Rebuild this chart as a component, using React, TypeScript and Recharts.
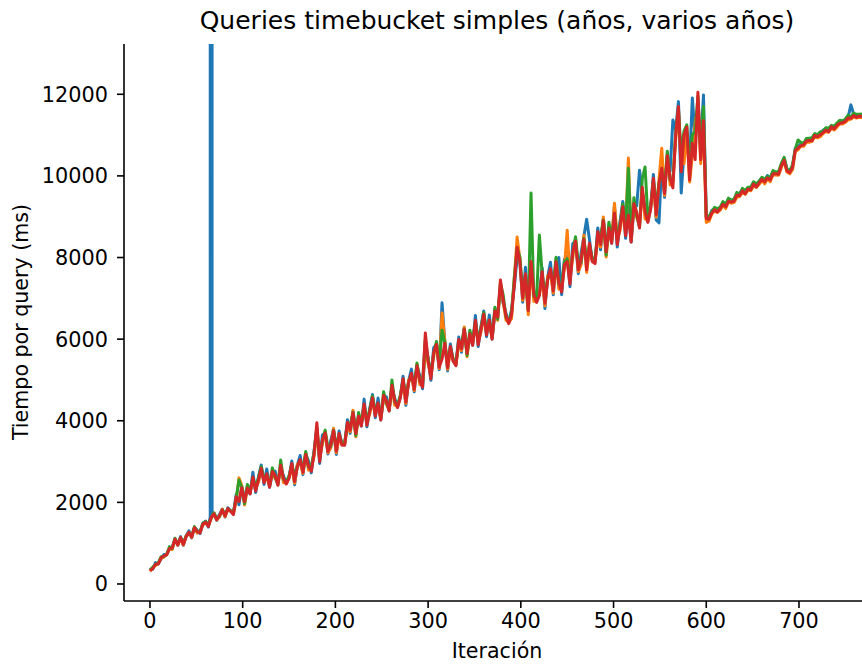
import { LineChart, Line, XAxis, YAxis } from 'recharts'

// iteration index, one sample every 3 iterations (0..768)
const iters = Array.from({ length: 257 }, (_, k) => k * 3)

// ms per query
const seriesBlue = [
  355, 360, 525, 490, 620, 720, 730, 845, 900, 1105,
  955, 1160, 945, 1175, 1300, 1130, 1380, 1320, 1235, 1490,
  1540, 1395, 1670, 1720, 1560, 1705, 1830, 1640, 1870, 1785,
  1720, 2195, 1940, 2395, 2115, 2290, 2210, 2740, 2240, 2630,
  2915, 2440, 2820, 2370, 2695, 2765, 2460, 2830, 2650, 2470,
  2610, 3015, 2430, 2915, 3150, 2680, 3175, 3010, 2725, 3265,
  3800, 2955, 3650, 3700, 3185, 3515, 3795, 3175, 3750, 3420,
  3420, 4025, 3690, 4235, 3785, 4050, 3870, 4530, 3850, 4300,
  4645, 4075, 4555, 4020, 4560, 4585, 4275, 4790, 4550, 4340,
  4580, 5090, 4380, 4980, 5265, 4710, 5345, 5105, 4785, 5800,
  5550, 4990, 5790, 5870, 5250, 6890, 5940, 5220, 5880, 5480,
  5370, 6050, 5680, 6280, 5750, 6070, 5850, 6580, 5820, 6310,
  6690, 6060, 6590, 6000, 6630, 6640, 7200, 6870, 6630, 6400,
  6730, 7285, 8000, 7900, 6905, 7760, 6765, 7770, 7195, 6930,
  7100, 7745, 6750, 7525, 7885, 7085, 7895, 8000, 7090, 7955,
  8030, 7285, 8340, 8400, 7605, 8110, 8515, 8940, 8445, 7930,
  7880, 8725, 8190, 8965, 8300, 8625, 8350, 9280, 8255, 8880,
  9375, 8470, 9225, 8380, 9225, 9265, 10140, 9590, 9215, 8890,
  9210, 10035, 8920, 8850, 10345, 9475, 10495, 10125, 11370, 11130,
  11820, 9580, 10600, 11000, 10300, 11910, 10900, 11500, 10800, 11980,
  8990, 8960, 9150, 9200, 9165, 9205, 9350, 9270, 9435, 9395,
  9420, 9545, 9575, 9665, 9610, 9690, 9705, 9825, 9785, 9860,
  9955, 9875, 10010, 9930, 10100, 10065, 10085, 10275, 10435, 10160,
  10120, 10220, 10680, 10710, 10790, 10770, 10895, 10895, 10915, 11025,
  11000, 11030, 11120, 11150, 11130, 11210, 11195, 11265, 11345, 11335,
  11380, 11440, 11740, 11510, 11480, 11480, 11495,
]

// the blue outlier around iteration 66 runs far above the axis
const blueSpikeIters = [65, 66, 67]
const blueSpikeValues = [1650, 3000000, 1660]

const seriesOrange = [
  310, 405, 450, 505, 630, 660, 735, 855, 845, 1080,
  960, 1105, 955, 1180, 1240, 1140, 1395, 1245, 1280, 1445,
  1495, 1440, 1595, 1735, 1570, 1645, 1835, 1650, 1815, 1790,
  1730, 2025, 2600, 2415, 1935, 2320, 2250, 2520, 2370, 2490,
  2775, 2570, 2600, 2410, 2725, 2585, 2480, 2870, 2480, 2480,
  2620, 2845, 2470, 2935, 2970, 2710, 3215, 2790, 2855, 3125,
  3750, 3085, 3430, 3740, 3215, 3335, 3815, 3215, 3580, 3430,
  3430, 3855, 3730, 4255, 3605, 4080, 3910, 4310, 3980, 4160,
  4505, 4205, 4335, 4060, 4590, 4405, 4295, 4830, 4380, 4350,
  4590, 4920, 4420, 5000, 5085, 4740, 5385, 4885, 4915, 5700,
  5410, 5120, 5570, 5910, 5280, 6640, 5960, 5260, 5710, 5490,
  5380, 5880, 5720, 6300, 5570, 6100, 5890, 6360, 5950, 6170,
  6550, 6190, 6370, 6040, 6660, 6460, 7300, 6910, 6460, 6410,
  6505, 7495, 8500, 7965, 6950, 7470, 6600, 7835, 6925, 6950,
  7120, 7475, 6815, 7555, 7595, 7130, 7960, 7225, 7300, 7730,
  8670, 7495, 7990, 8465, 7650, 7820, 8545, 7635, 8175, 7950,
  7900, 8455, 8255, 8995, 8010, 8670, 8415, 9330, 8465, 8655,
  9150, 8680, 10440, 8445, 9270, 8975, 8820, 9655, 8945, 8910,
  9230, 9765, 8985, 9905, 10680, 9520, 10560, 9775, 9850, 10905,
  11500, 10400, 10300, 11100, 9850, 10500, 11300, 11700, 10300, 11200,
  8860, 8890, 9070, 9130, 9105, 9160, 9280, 9200, 9365, 9330,
  9350, 9475, 9495, 9595, 9550, 9645, 9635, 9755, 9715, 9795,
  9885, 9805, 9930, 9860, 10040, 10020, 10015, 10205, 10365, 10095,
  10050, 10150, 10600, 10640, 10730, 10725, 10825, 10825, 10845, 10960,
  10930, 10960, 11040, 11080, 11070, 11165, 11125, 11195, 11275, 11270,
  11310, 11370, 11390, 11440, 11420, 11435, 11425,
]

const seriesGreen = [
  345, 410, 480, 515, 670, 670, 720, 915, 870, 1120,
  970, 1130, 1015, 1165, 1250, 1180, 1405, 1275, 1285, 1480,
  1530, 1445, 1625, 1745, 1610, 1655, 1820, 1710, 1840, 1800,
  1760, 2105, 2550, 2365, 1965, 2440, 2280, 2600, 2390, 2590,
  2875, 2590, 2680, 2440, 2845, 2615, 2430, 3040, 2560, 2510,
  2650, 2925, 2640, 2885, 3000, 2830, 3245, 2870, 2875, 3225,
  3850, 3105, 3510, 3770, 3335, 3365, 3765, 3385, 3660, 3460,
  3460, 3935, 3900, 4205, 3635, 4200, 3940, 4390, 4000, 4260,
  4605, 4225, 4415, 4090, 4710, 4435, 4245, 5000, 4460, 4380,
  4620, 5000, 4590, 4950, 5115, 4860, 5415, 4965, 4935, 6000,
  5510, 5140, 5650, 5940, 5400, 6220, 5910, 5430, 5790, 5520,
  5410, 5960, 5890, 6250, 5600, 6220, 5920, 6440, 5970, 6270,
  6650, 6210, 6450, 6070, 6780, 6490, 7380, 7080, 6540, 6440,
  6665, 7525, 8220, 8010, 7145, 7520, 6715, 9580, 7050, 6995,
  8550, 7600, 7090, 7475, 7645, 7325, 8005, 7355, 7330, 7890,
  7965, 7525, 8120, 8510, 7845, 7870, 8465, 7910, 8300, 7995,
  7945, 8580, 8530, 8915, 8060, 8865, 8460, 9060, 8495, 8815,
  9310, 8710, 10190, 8490, 9465, 9025, 8740, 9930, 10220, 8955,
  9275, 9890, 9260, 9825, 10105, 9715, 10605, 9905, 9880, 11065,
  11650, 10500, 11100, 11250, 10200, 11000, 11100, 11950, 10600, 11700,
  9000, 9010, 9120, 9230, 9195, 9235, 9370, 9300, 9455, 9405,
  9430, 9595, 9545, 9695, 9640, 9720, 9725, 9855, 9805, 9870,
  9965, 9925, 9980, 9960, 10130, 10095, 10105, 10305, 10455, 10170,
  10130, 10270, 10650, 10880, 10820, 10800, 10915, 10925, 10935, 11035,
  11010, 11080, 11090, 11180, 11160, 11240, 11215, 11295, 11365, 11345,
  11390, 11490, 11440, 11540, 11510, 11510, 11515,
]

const seriesRed = [
  330, 375, 485, 490, 640, 685, 715, 870, 880, 1100,
  950, 1140, 970, 1160, 1265, 1150, 1380, 1280, 1250, 1465,
  1515, 1410, 1630, 1720, 1580, 1670, 1815, 1665, 1850, 1780,
  1700, 2135, 2020, 2355, 2015, 2350, 2210, 2620, 2280, 2550,
  2835, 2480, 2700, 2370, 2755, 2665, 2420, 2910, 2590, 2450,
  2590, 2955, 2510, 2875, 3050, 2740, 3175, 2890, 2765, 3185,
  3950, 2995, 3530, 3700, 3245, 3415, 3755, 3255, 3690, 3400,
  3400, 3965, 3770, 4195, 3685, 4110, 3870, 4410, 3890, 4220,
  4565, 4115, 4435, 4020, 4620, 4485, 4235, 4870, 4490, 4320,
  4560, 5030, 4460, 4940, 5165, 4770, 5345, 4985, 4825, 6150,
  5470, 5030, 5670, 5870, 5310, 5510, 5900, 5300, 5820, 5460,
  5350, 5990, 5760, 6240, 5650, 6130, 5850, 6460, 5860, 6230,
  6610, 6100, 6470, 6000, 6690, 6540, 7450, 6950, 6570, 6380,
  6600, 7350, 8250, 7900, 7000, 7600, 6700, 7900, 7100, 6900,
  7070, 7650, 6880, 7460, 7725, 7180, 7895, 7385, 7155, 7825,
  7900, 7350, 8150, 8400, 7700, 7950, 8450, 7700, 8350, 7900,
  7850, 8630, 8320, 8900, 8140, 8720, 8350, 9090, 8320, 8750,
  9245, 8535, 9035, 8380, 9320, 9105, 8725, 9720, 9120, 8860,
  9180, 9940, 9050, 9810, 10185, 9570, 10495, 9935, 9705, 11000,
  11700, 10100, 11000, 11200, 9900, 10800, 10400, 12050, 10400, 11350,
  8950, 8940, 9090, 9170, 9115, 9195, 9305, 9245, 9380, 9360,
  9380, 9525, 9515, 9635, 9560, 9680, 9660, 9800, 9730, 9825,
  9915, 9855, 9950, 9900, 10050, 10055, 10040, 10250, 10380, 10125,
  10080, 10200, 10620, 10680, 10740, 10760, 10850, 10870, 10860, 10990,
  10960, 11010, 11060, 11120, 11080, 11200, 11150, 11240, 11290, 11300,
  11340, 11420, 11410, 11480, 11430, 11470, 11450,
]

const xTicks = [0, 100, 200, 300, 400, 500, 600, 700]
const yTicks = [0, 2000, 4000, 6000, 8000, 10000, 12000]

const data = iters.map((it, k) => ({
  it,
  orange: seriesOrange[k],
  green: seriesGreen[k],
  red: seriesRed[k],
}))

const blueData = iters
  .map((it, k) => ({ it, blue: seriesBlue[k] }))
  .filter((d) => !blueSpikeIters.includes(d.it))
  .concat(blueSpikeIters.map((it, k) => ({ it, blue: blueSpikeValues[k] })))
  .sort((a, b) => a.it - b.it)

const font = '"DejaVu Sans", sans-serif'
const tickStyle = { fontSize: 20.8, fill: '#000', fontFamily: font }

export default function App() {
  return (
    <div style={{ position: 'absolute', left: 0, top: 0, width: 862, height: 664, overflow: 'hidden', background: '#fff' }}>
      <div style={{
        position: 'absolute', left: 497, top: 6, transform: 'translateX(-50%)', whiteSpace: 'nowrap',
        fontFamily: font, fontSize: 25, color: '#000', lineHeight: '30px'
      }}>Queries timebucket simples (años, varios años)</div>
      <div style={{
        position: 'absolute', left: 497, top: 638, transform: 'translateX(-50%)', whiteSpace: 'nowrap',
        fontFamily: font, fontSize: 20.6, color: '#000', lineHeight: '26px'
      }}>Iteración</div>
      <div style={{
        position: 'absolute', left: 21, top: 322, transform: 'translate(-50%, -50%) rotate(-90deg)', whiteSpace: 'nowrap',
        fontFamily: font, fontSize: 20.6, color: '#000', lineHeight: '26px'
      }}>Tiempo por query (ms)</div>
      <LineChart width={880} height={664} data={data} margin={{ top: 44, right: 10, bottom: 0, left: 0 }}>
        <XAxis
          dataKey="it"
          type="number"
          domain={[-28, 776.6]}
          ticks={xTicks}
          allowDataOverflow
          height={63}
          tickSize={7}
          tickMargin={5}
          tick={tickStyle}
          stroke="#000"
          strokeWidth={1.6}
        />
        <XAxis xAxisId="top" orientation="top" dataKey="it" type="number" domain={[-28, 776.6]} height={0}
          tick={false} tickLine={false} stroke="#000" strokeWidth={1.6} />
        <YAxis
          type="number"
          domain={[-417, 13232]}
          ticks={yTicks}
          allowDataOverflow
          width={124}
          tickSize={7}
          tickMargin={9}
          tick={tickStyle}
          stroke="#000"
          strokeWidth={1.6}
        />
        <Line data={blueData} dataKey="blue" stroke="#1f77b4" strokeWidth={3} dot={false} strokeLinejoin="round" isAnimationActive={false} />
        <Line dataKey="orange" stroke="#ff7f0e" strokeWidth={3} dot={false} strokeLinejoin="round" isAnimationActive={false} />
        <Line dataKey="green" stroke="#2ca02c" strokeWidth={3} dot={false} strokeLinejoin="round" isAnimationActive={false} />
        <Line dataKey="red" stroke="#d62728" strokeWidth={3} dot={false} strokeLinejoin="round" isAnimationActive={false} />
      </LineChart>
    </div>
  )
}
